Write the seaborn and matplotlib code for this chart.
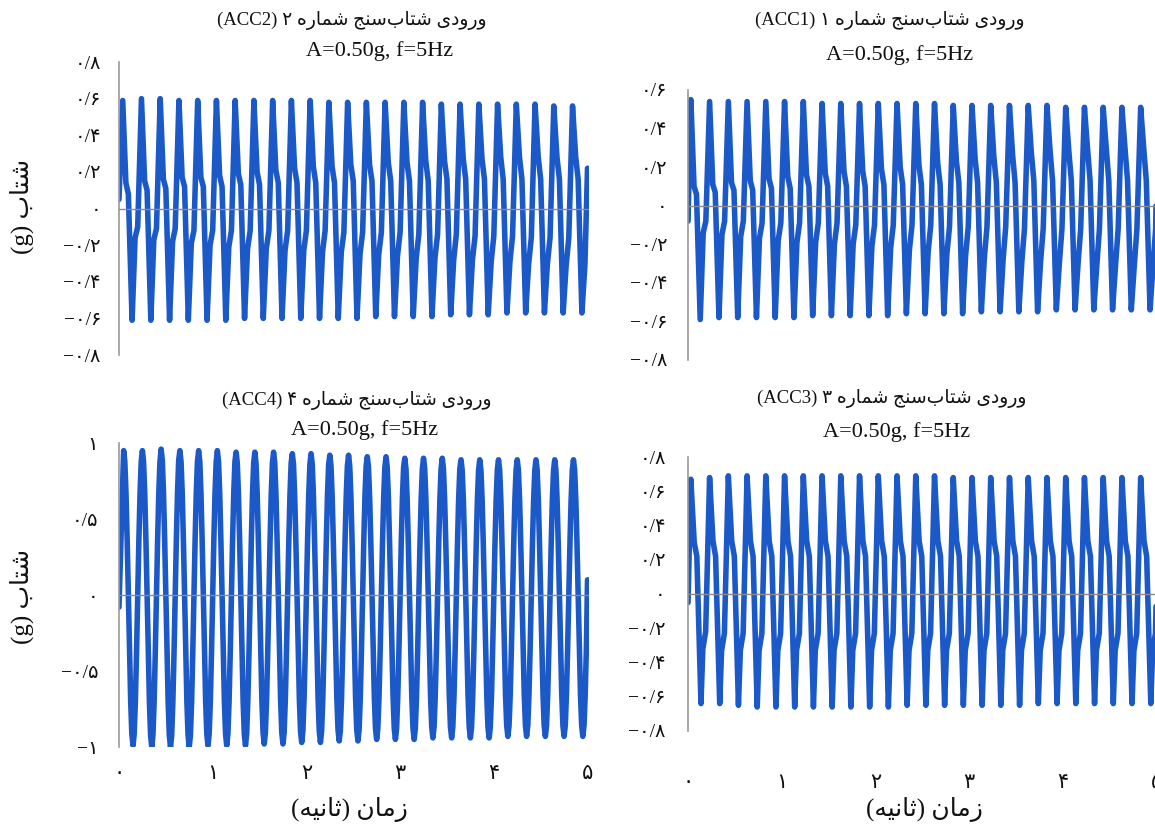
import matplotlib
matplotlib.use('Agg')
import matplotlib.pyplot as plt
import seaborn as sns

# ---- data (5 Hz, 25 cycles in 5 s) ----
PERIOD = 0.2
T_END = 5.0
XTICKS = [0, 1, 2, 3, 4, 5]
XLABELS = ['۰', '۱', '۲', '۳', '۴', '۵']

# ACC2 (top left)
acc2_peaks = [0.59, 0.60, 0.60, 0.59, 0.59, 0.59, 0.59, 0.59, 0.59, 0.59, 0.59, 0.58, 0.58,
              0.58, 0.58, 0.58, 0.58, 0.57, 0.57, 0.57, 0.57, 0.57, 0.57, 0.56, 0.56]
acc2_shoulder_hi = [0.14, 0.15, 0.16, 0.17, 0.17, 0.18, 0.19, 0.20, 0.21, 0.22, 0.23, 0.23, 0.24,
                    0.24, 0.25, 0.25, 0.26, 0.26, 0.27, 0.27, 0.28, 0.28, 0.28, 0.28, 0.28]
acc2_shoulder_lo = [0.08, 0.10, 0.11, 0.12, 0.12, 0.12, 0.13, 0.13, 0.14, 0.14, 0.14, 0.14, 0.15,
                    0.15, 0.15, 0.15, 0.15, 0.16, 0.16, 0.16, 0.16, 0.16, 0.16, 0.16, 0.16]
acc2_troughs = [-0.61, -0.61, -0.61, -0.61, -0.61, -0.61, -0.60, -0.60, -0.60, -0.60, -0.60, -0.60, -0.60,
                -0.59, -0.59, -0.59, -0.59, -0.58, -0.58, -0.58, -0.57, -0.57, -0.57, -0.57, -0.57]
acc2_neg_lo = [-0.16, -0.17, -0.18, -0.19, -0.20, -0.21, -0.22, -0.22, -0.23, -0.23, -0.24, -0.24, -0.25,
               -0.25, -0.26, -0.27, -0.27, -0.28, -0.28, -0.29, -0.29, -0.30, -0.30, -0.31, -0.31]
acc2_neg_hi = [-0.10, -0.11, -0.11, -0.12, -0.12, -0.12, -0.12, -0.12, -0.12, -0.12, -0.12, -0.13, -0.13,
               -0.13, -0.13, -0.14, -0.14, -0.14, -0.15, -0.15, -0.15, -0.16, -0.16, -0.16, -0.16]

# ACC1 (top right)
acc1_peaks = [0.55, 0.54, 0.54, 0.54, 0.54, 0.54, 0.54, 0.53, 0.53, 0.53, 0.53, 0.53, 0.53,
              0.53, 0.52, 0.52, 0.52, 0.52, 0.52, 0.52, 0.51, 0.51, 0.51, 0.51, 0.51]
acc1_shoulder_hi = [0.10, 0.11, 0.12, 0.13, 0.14, 0.15, 0.16, 0.17, 0.18, 0.18, 0.19, 0.20, 0.21,
                    0.22, 0.23, 0.24, 0.25, 0.26, 0.27, 0.28, 0.28, 0.29, 0.29, 0.29, 0.29]
acc1_shoulder_lo = [0.06, 0.07, 0.08, 0.08, 0.09, 0.09, 0.10, 0.10, 0.10, 0.10, 0.11, 0.11, 0.11,
                    0.11, 0.12, 0.12, 0.12, 0.12, 0.13, 0.13, 0.13, 0.13, 0.13, 0.13, 0.13]
acc1_troughs = [-0.59, -0.58, -0.58, -0.58, -0.58, -0.58, -0.57, -0.57, -0.57, -0.57, -0.57, -0.56, -0.56,
                -0.56, -0.56, -0.55, -0.55, -0.55, -0.55, -0.54, -0.54, -0.54, -0.54, -0.54, -0.54]
acc1_neg_lo = [-0.14, -0.15, -0.16, -0.17, -0.18, -0.19, -0.19, -0.20, -0.20, -0.21, -0.22, -0.23, -0.24,
               -0.25, -0.26, -0.27, -0.28, -0.29, -0.29, -0.30, -0.30, -0.31, -0.31, -0.31, -0.31]
acc1_neg_hi = [-0.08, -0.08, -0.08, -0.09, -0.09, -0.09, -0.09, -0.09, -0.10, -0.10, -0.10, -0.10, -0.10,
               -0.11, -0.11, -0.11, -0.11, -0.12, -0.12, -0.12, -0.12, -0.12, -0.12, -0.12, -0.12]

# ACC3 (bottom right)
acc3_peaks = [0.67, 0.68, 0.69, 0.69, 0.69, 0.69, 0.69, 0.69, 0.69, 0.69, 0.69, 0.69, 0.69,
              0.69, 0.68, 0.68, 0.68, 0.68, 0.68, 0.68, 0.68, 0.68, 0.68, 0.68, 0.68]
acc3_shoulder_hi = [0.30, 0.31, 0.31, 0.31, 0.31, 0.31, 0.31, 0.31, 0.31, 0.31, 0.31, 0.31, 0.31,
                    0.31, 0.31, 0.31, 0.31, 0.31, 0.31, 0.31, 0.31, 0.31, 0.31, 0.31, 0.31]
acc3_shoulder_lo = [0.22, 0.22, 0.22, 0.22, 0.22, 0.22, 0.22, 0.22, 0.22, 0.22, 0.22, 0.22, 0.22,
                    0.22, 0.22, 0.22, 0.22, 0.22, 0.22, 0.22, 0.22, 0.22, 0.22, 0.22, 0.22]
acc3_troughs = [-0.64, -0.64, -0.65, -0.66, -0.66, -0.66, -0.66, -0.66, -0.66, -0.66, -0.66, -0.65, -0.65,
                -0.65, -0.65, -0.65, -0.65, -0.65, -0.64, -0.64, -0.64, -0.64, -0.64, -0.64, -0.64]
acc3_neg_lo = [-0.32, -0.33, -0.33, -0.33, -0.33, -0.33, -0.33, -0.33, -0.33, -0.33, -0.33, -0.33, -0.33,
               -0.33, -0.33, -0.33, -0.33, -0.33, -0.33, -0.33, -0.33, -0.33, -0.33, -0.33, -0.33]
acc3_neg_hi = [-0.22, -0.23, -0.23, -0.23, -0.23, -0.23, -0.23, -0.23, -0.23, -0.23, -0.23, -0.23, -0.23,
               -0.23, -0.23, -0.23, -0.23, -0.23, -0.23, -0.23, -0.23, -0.23, -0.23, -0.23, -0.23]

# ACC4 (bottom left), nearly sinusoidal
acc4_peaks = [0.95, 0.95, 0.96, 0.95, 0.95, 0.95, 0.94, 0.94, 0.94, 0.93, 0.93, 0.92, 0.92,
              0.91, 0.91, 0.90, 0.90, 0.90, 0.89, 0.89, 0.89, 0.89, 0.89, 0.89, 0.89]
acc4_troughs = [-0.99, -1.00, -1.00, -1.00, -0.99, -0.99, -0.99, -0.98, -0.98, -0.97, -0.97, -0.96, -0.96,
                -0.95, -0.95, -0.95, -0.94, -0.94, -0.94, -0.94, -0.93, -0.93, -0.93, -0.93, -0.93]

# shape of one cycle (phase from the peak)
SHOULDER_PHASES = [0.0, 0.17, 0.30, 0.50, 0.66, 0.80]
ACC3_PHASES = [0.0, 0.18, 0.32, 0.54, 0.64, 0.79]
SINE_PHASES = [i / 16 for i in range(16)]
SINE_SHAPE = [1.0, 0.924, 0.707, 0.383, 0.0, -0.383, -0.707, -0.924,
              -1.0, -0.924, -0.707, -0.383, 0.0, 0.383, 0.707, 0.924]

# first peak time, value at t=0 and value at t=5
acc2_edges = (0.04, 0.05, 0.22)
acc1_edges = (0.03, -0.08, 0.20)
acc3_edges = (0.03, -0.05, 0.10)
acc4_edges = (0.05, -0.08, 0.10)

# ---- Persian text helpers (no shaping engine in matplotlib) ----
FORMS = {
    'ا': ('\ufe8d', '\ufe8e', None, None),
    'ب': ('\ufe8f', '\ufe90', '\ufe91', '\ufe92'),
    'ت': ('\ufe95', '\ufe96', '\ufe97', '\ufe98'),
    'ث': ('\ufe99', '\ufe9a', '\ufe9b', '\ufe9c'),
    'ج': ('\ufe9d', '\ufe9e', '\ufe9f', '\ufea0'),
    'د': ('\ufea9', '\ufeaa', None, None),
    'ر': ('\ufead', '\ufeae', None, None),
    'ز': ('\ufeaf', '\ufeb0', None, None),
    'س': ('\ufeb1', '\ufeb2', '\ufeb3', '\ufeb4'),
    'ش': ('\ufeb5', '\ufeb6', '\ufeb7', '\ufeb8'),
    'م': ('\ufee1', '\ufee2', '\ufee3', '\ufee4'),
    'ن': ('\ufee5', '\ufee6', '\ufee7', '\ufee8'),
    'ه': ('\ufee9', '\ufeea', '\ufeeb', '\ufeec'),
    'و': ('\ufeed', '\ufeee', None, None),
    'ی': ('\ufeef', '\ufef0', '\ufef3', '\ufef4'),
}


def shape(s):
    out = []
    for i, ch in enumerate(s):
        if ch not in FORMS:
            out.append(ch)
            continue
        prev = s[i - 1] if i > 0 else ''
        nxt = s[i + 1] if i + 1 < len(s) else ''
        iso, fin, ini, med = FORMS[ch]
        link_prev = prev in FORMS and FORMS[prev][2] is not None
        link_next = ini is not None and nxt in FORMS
        if link_prev and link_next:
            out.append(med)
        elif link_prev:
            out.append(fin)
        elif link_next:
            out.append(ini)
        else:
            out.append(iso)
    return ''.join(out).replace('\u200c', '')


def rtl(s):
    return shape(s)[::-1]


def build(edges, phases, cycles):
    t0, v_start, v_end = edges
    t, v = [0.0], [v_start]
    for k, vals in enumerate(zip(*cycles)):
        for ph, val in zip(phases, vals):
            tt = t0 + (k + ph) * PERIOD
            if tt < T_END:
                t.append(tt)
                v.append(val)
    t.append(T_END)
    v.append(v_end)
    return t, v


def sine_cycles(peaks, troughs):
    rows = []
    for s in SINE_SHAPE:
        rows.append([s * p if s >= 0 else -s * tr for p, tr in zip(peaks, troughs)])
    return rows


HEAD = rtl('ورودی شتاب‌سنج شماره')
SUB = 'A=0.50g, f=5Hz'
YLAB = '(g) ' + rtl('شتاب')
XLAB = '(' + rtl('ثانیه') + ') ' + rtl('زمان')

panels = [
    dict(name='ACC2', num='۲', pos=[0.1030, 0.5707, 0.4073, 0.3543], ylim=(-0.8, 0.8),
         yticks=[-0.8, -0.6, -0.4, -0.2, 0, 0.2, 0.4, 0.6, 0.8],
         ylabels=['−۰/۸', '−۰/۶', '−۰/۴', '−۰/۲', '۰', '۰/۲', '۰/۴', '۰/۶', '۰/۸'],
         data=build(acc2_edges, SHOULDER_PHASES, [acc2_peaks, acc2_shoulder_hi, acc2_shoulder_lo,
                                                  acc2_troughs, acc2_neg_lo, acc2_neg_hi]),
         t1=(352, 20), t2=(380, 51), xlab=False, xpad=0, ypad=13),
    dict(name='ACC1', num='۱', pos=[0.5957, 0.5647, 0.4073, 0.3265], ylim=(-0.8, 0.6),
         yticks=[-0.8, -0.6, -0.4, -0.2, 0, 0.2, 0.4, 0.6],
         ylabels=['−۰/۸', '−۰/۶', '−۰/۴', '−۰/۲', '۰', '۰/۲', '۰/۴', '۰/۶'],
         data=build(acc1_edges, SHOULDER_PHASES, [acc1_peaks, acc1_shoulder_hi, acc1_shoulder_lo,
                                                  acc1_troughs, acc1_neg_lo, acc1_neg_hi]),
         t1=(890, 20), t2=(900, 55), xlab=False, xpad=0, ypad=15),
    dict(name='ACC4', num='۴', pos=[0.1030, 0.0967, 0.4073, 0.3676], ylim=(-1, 1),
         yticks=[-1, -0.5, 0, 0.5, 1],
         ylabels=['−۱', '−۰/۵', '۰', '۰/۵', '۱'],
         data=build(acc4_edges, SINE_PHASES, sine_cycles(acc4_peaks, acc4_troughs)),
         t1=(357, 400), t2=(365, 430), xlab=True, xpad=13, ypad=15),
    dict(name='ACC3', num='۳', pos=[0.5957, 0.1161, 0.4073, 0.3313], ylim=(-0.8, 0.8),
         yticks=[-0.8, -0.6, -0.4, -0.2, 0, 0.2, 0.4, 0.6, 0.8],
         ylabels=['−۰/۸', '−۰/۶', '−۰/۴', '−۰/۲', '۰', '۰/۲', '۰/۴', '۰/۶', '۰/۸'],
         data=build(acc3_edges, ACC3_PHASES, [acc3_peaks, acc3_shoulder_hi, acc3_shoulder_lo,
                                              acc3_troughs, acc3_neg_lo, acc3_neg_hi]),
         t1=(892, 398), t2=(897, 432), xlab=True, xpad=31, ypad=16),
]

sns.set_theme(style='white')
plt.rcParams['font.family'] = ['Liberation Serif', 'DejaVu Sans']
plt.rcParams['axes.unicode_minus'] = True

BLUE = '#1b58c8'
W, H = 1155, 827

fig = plt.figure(figsize=(11.55, 8.27), dpi=100)

for p in panels:
    ax = fig.add_axes(p['pos'])
    t, v = p['data']
    sns.lineplot(x=t, y=v, ax=ax, color=BLUE, linewidth=4.0, estimator=None, sort=False,
                 solid_joinstyle='round', solid_capstyle='round')
    ax.axhline(0, color='#8a8a8a', linewidth=1.0, zorder=3)
    ax.set_xlim(0, 5.02)
    ax.set_ylim(*p['ylim'])
    ax.set_yticks(p['yticks'])
    ax.set_yticklabels(p['ylabels'], fontsize=14, color='#111111')
    if p['xlab']:
        ax.set_xticks(XTICKS)
        ax.set_xticklabels(XLABELS, fontsize=15, color='#111111')
    else:
        ax.set_xticks([])
    ax.tick_params(axis='y', length=0, pad=p['ypad'])
    ax.tick_params(axis='x', length=0, pad=p['xpad'])
    ax.set_xlabel('')
    ax.set_ylabel('')
    for side in ['top', 'right', 'bottom']:
        ax.spines[side].set_visible(False)
    ax.spines['left'].set_color('#9a9a9a')
    ax.spines['left'].set_linewidth(1.2)
    ax.patch.set_alpha(0)

    head = '(' + p['name'] + ') ' + p['num'] + ' ' + HEAD
    fig.text(p['t1'][0] / W, 1 - p['t1'][1] / H, head, ha='center', va='center',
             fontsize=13.5, color='#111111')
    fig.text(p['t2'][0] / W, 1 - p['t2'][1] / H, SUB, ha='center', va='center',
             fontsize=16, color='#111111')

# axis titles
for yc in (207, 597):
    fig.text(22 / W, 1 - yc / H, YLAB, rotation=90, ha='center', va='center',
             fontsize=18, color='#111111')
for xc in (349, 924):
    fig.text(xc / W, 1 - 810 / H, XLAB, ha='center', va='center', fontsize=18, color='#111111')

fig.savefig('out.png', dpi=100)
